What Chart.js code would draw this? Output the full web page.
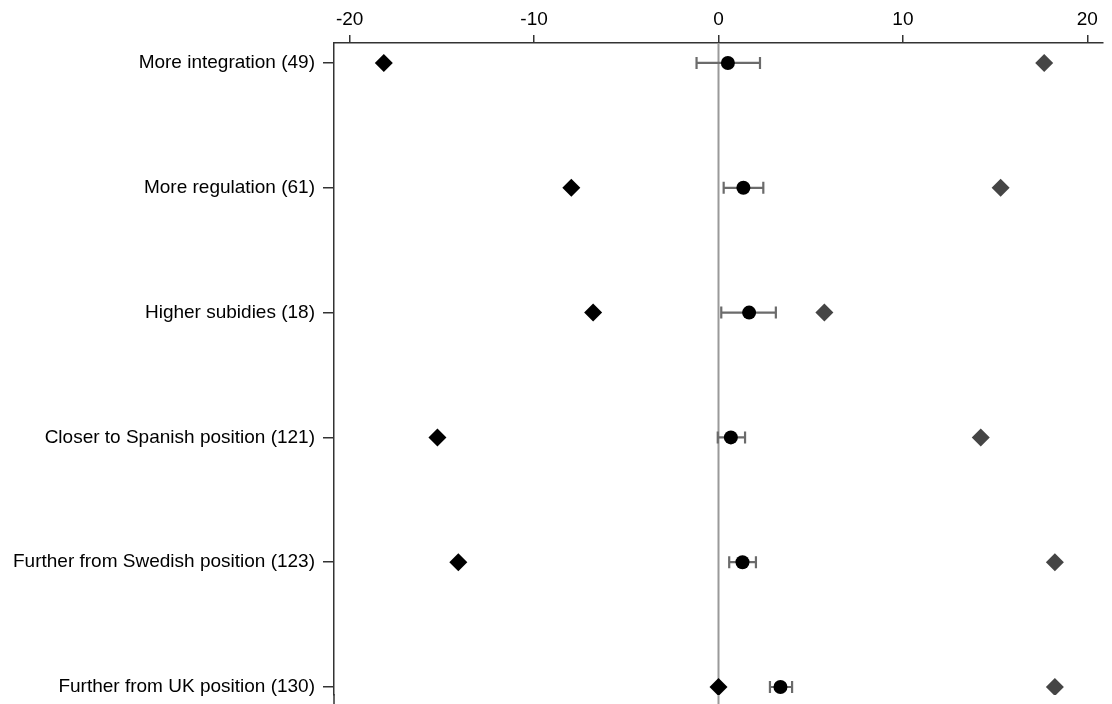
<!DOCTYPE html>
<html>
<head>
<meta charset="utf-8">
<script src="https://cdn.jsdelivr.net/npm/chart.js@4.4.1/dist/chart.umd.min.js"></script>
<style>
  html, body { margin: 0; padding: 0; background: #fff; }
  #wrap { width: 1112px; height: 704px; position: relative; }
</style>
</head>
<body>
<div id="wrap"><canvas id="chart"></canvas></div>
<script>
// categories, top to bottom
const CATEGORIES = [
    'More integration (49)',
    'More regulation (61)',
    'Higher subidies (18)',
    'Closer to Spanish position (121)',
    'Further from Swedish position (123)',
    'Further from UK position (130)'
];

// estimates
const LOW_VALUES = [-18.15, -7.98, -6.8, -15.24, -14.11, 0.0];     // black diamonds
const HIGH_VALUES = [17.66, 15.3, 5.74, 14.22, 18.24, 18.24];      // grey diamonds
const POINT_EST = [0.51, 1.35, 1.66, 0.67, 1.3, 3.36];             // circles
const CI_LOW = [-1.19, 0.28, 0.15, -0.04, 0.58, 2.79];
const CI_HIGH = [2.25, 2.43, 3.11, 1.44, 2.03, 3.99];

const X_TICKS = [-20, -10, 0, 10, 20];

const FONT = { family: "'Liberation Sans', Arial, sans-serif", size: 19 };

const toPoints = vals => vals.map((v, i) => ({ x: v, y: i }));

// zero line + error bars, drawn under the markers
const errorBarPlugin = {
    id: 'errorBars',
    beforeDatasetsDraw(chart) {
        const { ctx, chartArea, scales } = chart;
        const xs = scales.x, ys = scales.y;
        ctx.save();
        // reference line at 0, runs to the bottom edge
        const x0 = xs.getPixelForValue(0);
        ctx.strokeStyle = '#9a9a9a';
        ctx.lineWidth = 2;
        ctx.beginPath();
        ctx.moveTo(x0, chartArea.top);
        ctx.lineTo(x0, chart.height);
        ctx.stroke();

        // left axis also runs off the bottom
        ctx.strokeStyle = '#333';
        ctx.lineWidth = 1.5;
        ctx.beginPath();
        ctx.moveTo(chartArea.left, chartArea.bottom - 1);
        ctx.lineTo(chartArea.left, chart.height);
        ctx.stroke();

        ctx.strokeStyle = '#6b6b6b';
        ctx.lineWidth = 2.2;
        CATEGORIES.forEach((c, i) => {
            const y = ys.getPixelForValue(i);
            const a = xs.getPixelForValue(CI_LOW[i]);
            const b = xs.getPixelForValue(CI_HIGH[i]);
            ctx.beginPath();
            ctx.moveTo(a, y); ctx.lineTo(b, y);
            ctx.moveTo(a, y - 6); ctx.lineTo(a, y + 6);
            ctx.moveTo(b, y - 6); ctx.lineTo(b, y + 6);
            ctx.stroke();
        });
        ctx.restore();
    }
};

new Chart(document.getElementById('chart'), {
    type: 'scatter',
    data: {
        datasets: [
            {
                label: 'low',
                data: toPoints(LOW_VALUES),
                pointStyle: 'rectRot',
                pointRadius: 9,
                pointHoverRadius: 9,
                backgroundColor: '#000',
                borderColor: '#000',
                borderWidth: 0
            },
            {
                label: 'high',
                data: toPoints(HIGH_VALUES),
                pointStyle: 'rectRot',
                pointRadius: 9,
                pointHoverRadius: 9,
                backgroundColor: '#454545',
                borderColor: '#454545',
                borderWidth: 0
            },
            {
                label: 'estimate',
                data: toPoints(POINT_EST),
                pointStyle: 'circle',
                pointRadius: 7,
                pointHoverRadius: 7,
                backgroundColor: '#000',
                borderColor: '#000',
                borderWidth: 0
            }
        ]
    },
    options: {
        responsive: true,
        maintainAspectRatio: false,
        animation: false,
        layout: { padding: { left: 0, right: 3, top: 0, bottom: 0 } },
        plugins: {
            legend: { display: false },
            tooltip: { enabled: false }
        },
        scales: {
            x: {
                type: 'linear',
                position: 'top',
                min: -20.85,
                max: 20.85,
                afterBuildTicks: s => { s.ticks = X_TICKS.map(v => ({ value: v })); },
                afterFit: s => { s.height = 43; s.paddingLeft = 0; s.paddingRight = 0; },
                ticks: {
                    color: '#000',
                    font: FONT,
                    padding: 4,
                    maxRotation: 0
                },
                grid: { drawOnChartArea: false, drawTicks: true, tickLength: 8, color: '#333', lineWidth: 1.5 },
                border: { display: true, color: '#333', width: 1.5 }
            },
            y: {
                type: 'linear',
                reverse: true,
                min: -0.16,
                max: 5.064,
                afterBuildTicks: s => { s.ticks = CATEGORIES.map((c, i) => ({ value: i })); },
                afterFit: s => { s.width = 334; s.paddingTop = 0; s.paddingBottom = 0; },
                ticks: {
                    color: '#000',
                    font: FONT,
                    padding: 8,
                    callback: v => CATEGORIES[v]
                },
                grid: { drawOnChartArea: false, drawTicks: true, tickLength: 11, color: '#333', lineWidth: 1.5 },
                border: { display: true, color: '#333', width: 1.5 }
            }
        }
    },
    plugins: [errorBarPlugin]
});
</script>
</body>
</html>
